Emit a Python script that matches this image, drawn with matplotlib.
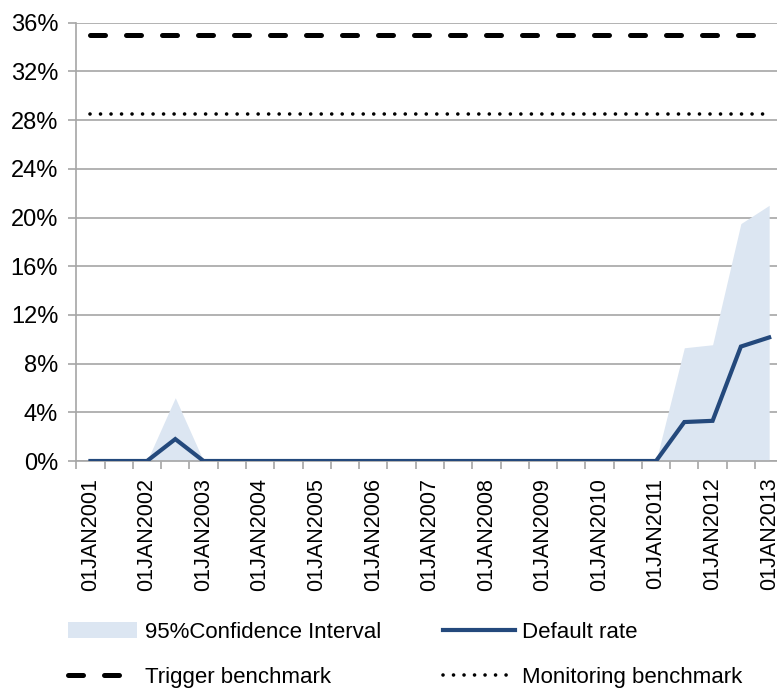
import matplotlib
matplotlib.use("Agg")
import matplotlib.pyplot as plt
from matplotlib.patches import Patch
from matplotlib.lines import Line2D

plt.rcParams['font.family'] = ['Liberation Sans', 'DejaVu Sans']

years = list(range(2001, 2014))
tick_labels = [f"01JAN{y}" for y in years]
n_periods = 25  # semiannual from Jan 2001 to Jan 2013

default_rate = [0, 0, 0, 1.8, 0, 0, 0, 0, 0, 0, 0, 0, 0, 0, 0, 0, 0, 0, 0, 0, 0, 3.2, 3.3, 9.4, 10.15]
ci_upper = [0, 0, 0, 5.2, 0, 0, 0, 0, 0, 0, 0, 0, 0, 0, 0, 0, 0, 0, 0, 0, 0, 9.3, 9.55, 19.5, 21.0]
ci_lower = [0] * 25
trigger = [35.0] * 25
monitoring = [28.5] * 25

x = list(range(n_periods))

W, H = 777, 691
fig = plt.figure(figsize=(W / 100, H / 100), dpi=100)
ax = fig.add_axes([76.3 / W, 1 - 461 / H, 707 / W, (461 - 22.7) / H])

fill_color = '#dce6f2'
line_color = '#24497c'
grid_color = '#a6a6a6'
dash_style = (0, (3.0, 4.2))
dot_style = (0, (0.01, 2.9))

ax.fill_between(x, ci_lower, ci_upper, color=fill_color, lw=0, zorder=2)
ax.plot(x, default_rate, color=line_color, lw=3.0, zorder=4, solid_joinstyle='miter')
ax.plot(x, trigger, color='black', lw=3.6, ls=dash_style, dash_capstyle='round', zorder=3)
ax.plot(x, monitoring, color='black', lw=2.6, ls=dot_style, dash_capstyle='round', zorder=3)

ax.set_xlim(-0.5, n_periods - 0.5)
ax.set_ylim(0, 36)
ax.set_yticks(range(0, 37, 4))
ax.set_yticklabels([f"{v}%" for v in range(0, 37, 4)], fontsize=17)
ax.yaxis.grid(True, color=grid_color, lw=1.2, zorder=1)
ax.set_axisbelow(True)

ax.set_xticks(list(range(0, n_periods, 2)))
ax.set_xticklabels(tick_labels, rotation=90, fontsize=15.5)
ax.set_xticks([i - 0.5 for i in range(n_periods + 1)], minor=True)
ax.tick_params(axis='x', which='major', length=0, pad=12)
ax.tick_params(axis='x', which='minor', length=5.5, color=grid_color, width=1.2)
ax.tick_params(axis='y', length=6, color=grid_color, width=1.2, pad=7)

for s in ['top', 'right']:
    ax.spines[s].set_visible(False)
for s in ['left', 'bottom']:
    ax.spines[s].set_color(grid_color)
    ax.spines[s].set_linewidth(1.2)

leg_kw = dict(frameon=False, fontsize=16, loc='upper left', borderpad=0, borderaxespad=0,
              labelspacing=1.08, handleheight=0.7)

h1 = [
    Patch(facecolor=fill_color, edgecolor='none', label='95%Confidence Interval'),
    Line2D([0], [0], color='black', lw=3.6, ls=dash_style, dash_capstyle='round', label='Trigger benchmark'),
]
h2 = [
    Line2D([0], [0], color=line_color, lw=3.0, label='Default rate'),
    Line2D([0], [0], color='black', lw=2.6, ls=dot_style, dash_capstyle='round', label='Monitoring benchmark'),
]
leg1 = fig.legend(handles=h1, bbox_to_anchor=(68 / W, 1 - 622 / H), handlelength=3.1,
                  handletextpad=0.36, **leg_kw)
leg2 = fig.legend(handles=h2, bbox_to_anchor=(443 / W, 1 - 622 / H), handlelength=3.25,
                  handletextpad=0.32, **leg_kw)

fig.savefig('out.png', dpi=100)
